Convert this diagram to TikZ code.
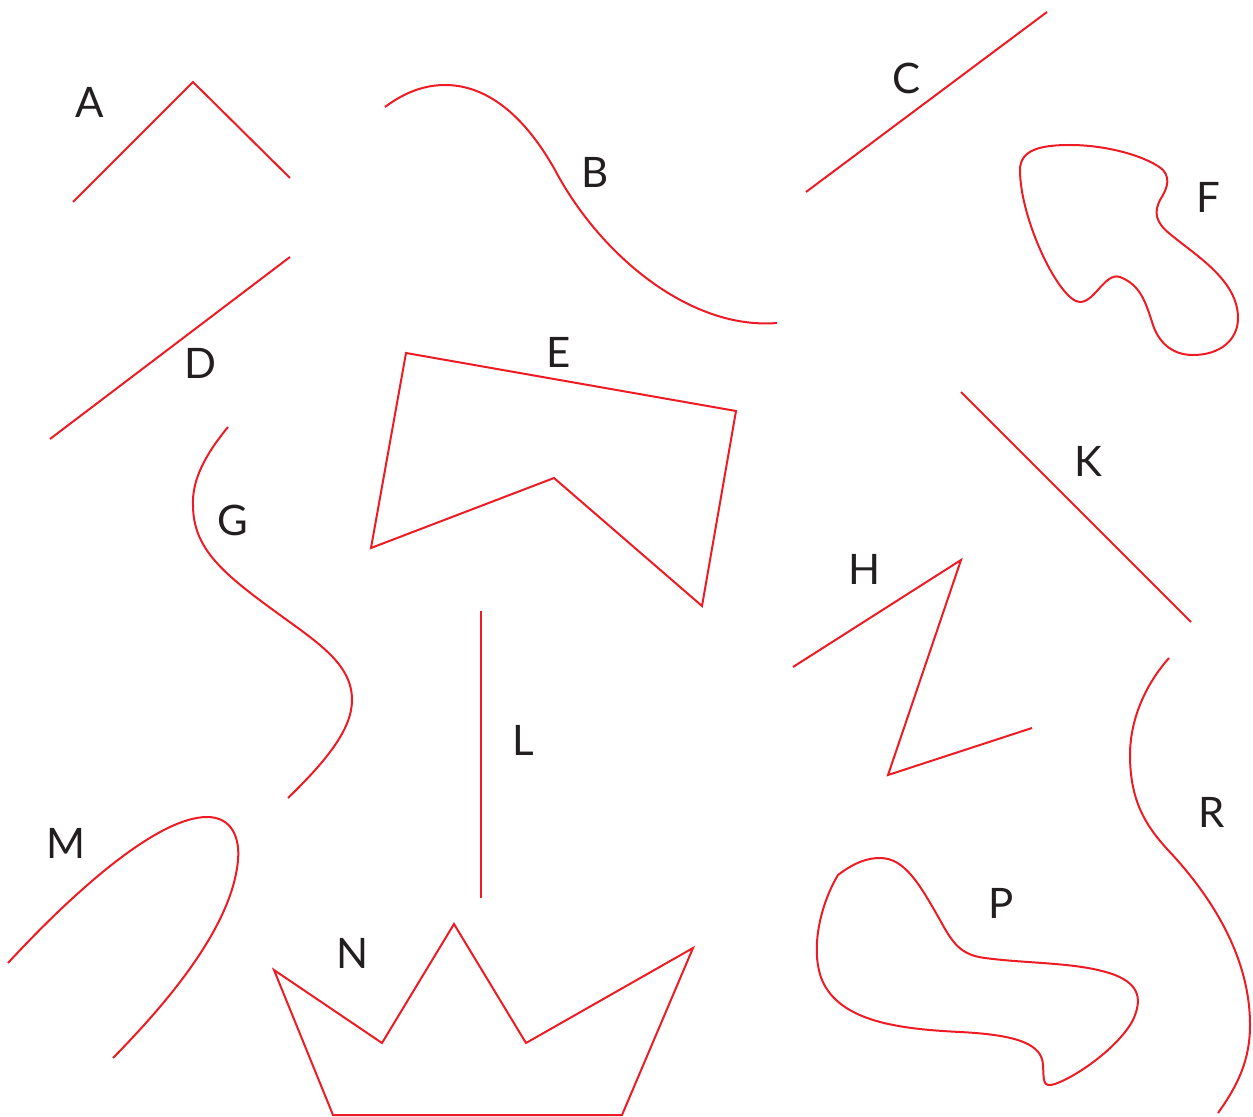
\documentclass[tikz,border=0pt]{standalone}
\usepackage{fontspec}
\setmainfont{Lato}
\definecolor{shapered}{RGB}{237,28,36}
\definecolor{labelgray}{RGB}{35,31,32}
\begin{document}
\begin{tikzpicture}[x=0.5pt,y=-0.5pt,
  shape line/.style={draw=shapered,line width=1pt,line join=miter},
  letter/.style={text=labelgray,font=\fontsize{21}{25}\selectfont,inner sep=0pt}]
\useasboundingbox (0,0) rectangle (1253,1117);
% A
\draw[shape line] (73,202) -- (193,82) -- (290,178);
\node[letter] (lA) at (90,102) {A};
% B
\draw[shape line] (385,107) .. controls (405,92) and (425,85) .. (445,85)
  .. controls (490,85) and (527,120) .. (555,170)
  .. controls (600,255) and (690,330) .. (777,323);
\node[letter] (lB) at (595,172) {B};
% C
\draw[shape line] (806,192) -- (1047,12);
\node[letter] (lC) at (907,78) {C};
% D
\draw[shape line] (50,439) -- (290,257);
\node[letter] (lD) at (200,363) {D};
% E
\draw[shape line] (406,353) -- (736,411) -- (702,606) -- (554,478) -- (371,548) -- cycle;
\node[letter] (lE) at (559,352) {E};
% F
\draw[shape line] (1020,170) .. controls (1020,150) and (1040,145) .. (1070,145)
  .. controls (1110,145) and (1150,158) .. (1163,170)
  .. controls (1172,180) and (1165,192) .. (1160,200)
  .. controls (1154,212) and (1155,222) .. (1170,234)
  .. controls (1195,255) and (1238,280) .. (1238,318)
  .. controls (1238,340) and (1220,355) .. (1193,355)
  .. controls (1170,355) and (1158,340) .. (1153,325)
  .. controls (1145,300) and (1140,285) .. (1120,277)
  .. controls (1105,272) and (1095,302) .. (1080,302)
  .. controls (1060,302) and (1020,220) .. cycle;
\node[letter] (lF) at (1208,197) {F};
% G
\draw[shape line] (228,427) .. controls (205,455) and (192,480) .. (193,505)
  .. controls (193,550) and (225,575) .. (280,615)
  .. controls (320,644) and (352,665) .. (352,700)
  .. controls (352,730) and (325,762) .. (288,798);
\node[letter] (lG) at (233,520) {G};
% H
\draw[shape line] (793,667) -- (961,560) -- (888,775) -- (1032,728);
\node[letter] (lH) at (865,569) {H};
% K
\draw[shape line] (961,392) -- (1191,622);
\node[letter] (lK) at (1088,461) {K};
% L
\draw[shape line] (481,611) -- (481,898);
\node[letter] (lL) at (523,740) {L};
% M
\draw[shape line] (8,963) .. controls (80,885) and (160,817) .. (207,817)
  .. controls (232,817) and (240,838) .. (238,860)
  .. controls (232,930) and (160,1010) .. (113,1058);
\node[letter] (lM) at (66,843) {M};
% N
\draw[shape line] (274,970) -- (382,1043) -- (454,924) -- (526,1043) -- (693,948)
  -- (622,1115) -- (333,1115) -- cycle;
\node[letter] (lN) at (353,953) {N};
% P
\draw[shape line] (838,875) .. controls (855,862) and (868,858) .. (880,858)
  .. controls (905,858) and (920,885) .. (940,920)
  .. controls (952,942) and (960,955) .. (985,958)
  .. controls (1030,964) and (1080,962) .. (1115,975)
  .. controls (1140,985) and (1142,1000) .. (1133,1020)
  .. controls (1120,1045) and (1080,1075) .. (1055,1084)
  .. controls (1042,1088) and (1044,1080) .. (1043,1065)
  .. controls (1042,1045) and (1020,1035) .. (960,1032)
  .. controls (900,1029) and (840,1022) .. (822,980)
  .. controls (810,950) and (820,905) .. cycle;
\node[letter] (lP) at (1001,903) {P};
% R
\draw[shape line] (1169,658) .. controls (1145,685) and (1130,720) .. (1130,755)
  .. controls (1130,800) and (1145,825) .. (1168,850)
  .. controls (1215,900) and (1250,960) .. (1250,1025)
  .. controls (1250,1060) and (1238,1085) .. (1218,1113);
\node[letter] (lR) at (1212,812) {R};
\end{tikzpicture}
\end{document}
